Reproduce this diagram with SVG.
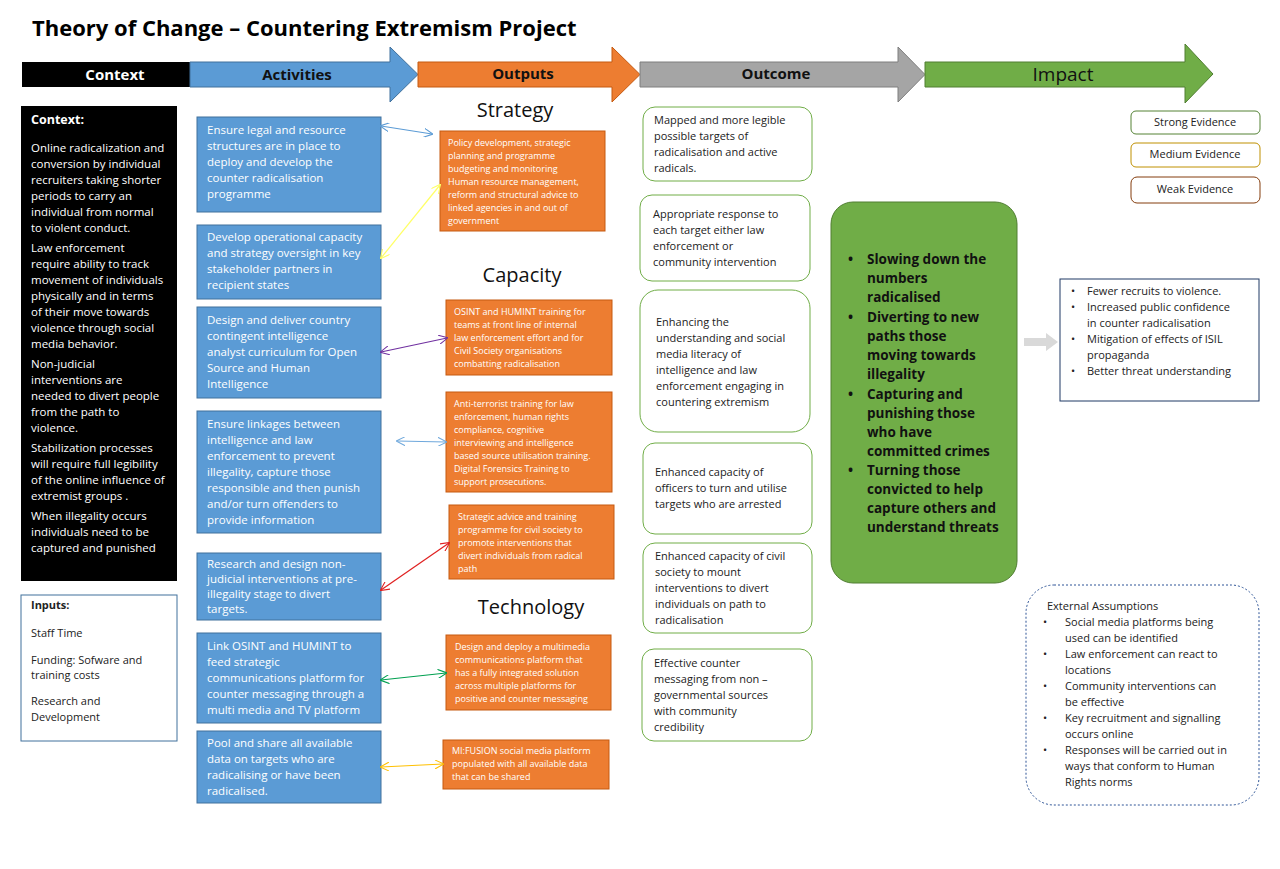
<svg xmlns="http://www.w3.org/2000/svg" width="1280" height="869" viewBox="0 0 1280 869">
<style>
text{font-family:"Open Sans","Liberation Sans",sans-serif}
.hd{font-size:15px;font-weight:bold;fill:#111}
.act rect{fill:#5b9bd5;stroke:#41719c;stroke-width:1}
.act text{font-size:11.5px;fill:#fff}
.out rect{fill:#ed7d31;stroke:#c55a11;stroke-width:1}
.out text{font-size:9px;fill:#fff}
.oc rect{fill:#fff;stroke:#70ad47;stroke-width:1}
.oc text{font-size:11px;fill:#222}
.sec{font-size:20px;fill:#111}
.ctx text{font-size:11.5px;fill:#fff}
.sm{font-size:11px;fill:#222}
</style>
<defs>
<marker id="a" viewBox="0 0 10 10" refX="9" refY="5" markerWidth="9" markerHeight="9" orient="auto-start-reverse" markerUnits="userSpaceOnUse"><path d="M0,0 L10,5 L0,10" fill="none" stroke="context-stroke" stroke-width="1.2"/></marker>
</defs>
<rect width="1280" height="869" fill="#fff"/>
<text x="32" y="36" style="font-size:22px;font-weight:bold;fill:#000">Theory of Change – Countering Extremism Project</text>
<g id="header">
<rect x="22" y="62" width="170" height="25" fill="#000"/>
<text x="115" y="80" text-anchor="middle" class="hd" style="fill:#fff">Context</text>
<path d="M190,62 H390 V47 L418,74.5 L390,102 V87 H190Z" fill="#5b9bd5" stroke="#41719c"/>
<text x="297" y="80" text-anchor="middle" class="hd">Activities</text>
<path d="M418,62 H612 V47 L640,74.5 L612,102 V87 H418Z" fill="#ed7d31" stroke="#c55a11"/>
<text x="523" y="79" text-anchor="middle" class="hd">Outputs</text>
<path d="M640,62 H898 V47 L925,74.5 L898,102 V87 H640Z" fill="#a5a5a5" stroke="#7f7f7f"/>
<text x="776" y="79" text-anchor="middle" class="hd">Outcome</text>
<path d="M925,62 H1185 V44 L1213,74 L1185,103 V87 H925Z" fill="#70ad47" stroke="#507e32"/>
<text x="1063" y="81" text-anchor="middle" style="font-size:19px;fill:#111">Impact</text>
</g>
<g id="context" class="ctx">
<rect x="21" y="106" width="156" height="475" fill="#000"/>
<text x="31" y="124" style="font-weight:bold;font-size:12.5px">Context:</text>
<text x="31" y="152">Online radicalization and</text>
<text x="31" y="168">conversion by individual</text>
<text x="31" y="184">recruiters taking shorter</text>
<text x="31" y="200">periods to carry an</text>
<text x="31" y="216">individual from normal</text>
<text x="31" y="232">to violent conduct.</text>
<text x="31" y="252">Law enforcement</text>
<text x="31" y="268">require ability to track</text>
<text x="31" y="284">movement  of individuals</text>
<text x="31" y="300">physically and in terms</text>
<text x="31" y="316">of their move towards</text>
<text x="31" y="332">violence through social</text>
<text x="31" y="348">media behavior.</text>
<text x="31" y="368">Non-judicial</text>
<text x="31" y="384">interventions are</text>
<text x="31" y="400">needed  to divert people</text>
<text x="31" y="416">from the path to</text>
<text x="31" y="432">violence.</text>
<text x="31" y="452">Stabilization processes</text>
<text x="31" y="468">will require full legibility</text>
<text x="31" y="484">of the online influence of</text>
<text x="31" y="500">extremist groups .</text>
<text x="31" y="520">When illegality occurs</text>
<text x="31" y="536">individuals need to be</text>
<text x="31" y="552">captured and punished</text>
</g>
<g id="inputs">
<rect x="21" y="595" width="156" height="146" fill="#fff" stroke="#41719c"/>
<text x="31" y="609" class="sm" style="font-weight:bold">Inputs:</text>
<text x="31" y="637" class="sm">Staff Time</text>
<text x="31" y="664" class="sm">Funding: Sofware and</text>
<text x="31" y="679" class="sm">training costs</text>
<text x="31" y="705" class="sm">Research and</text>
<text x="31" y="721" class="sm">Development</text>
</g>
<text x="515" y="117" text-anchor="middle" class="sec">Strategy</text>
<text x="522" y="282" text-anchor="middle" class="sec">Capacity</text>
<text x="531" y="614" text-anchor="middle" class="sec">Technology</text>
<g id="act1" class="act"><rect x="197" y="117" width="184" height="95"/>
<text x="207" y="134">Ensure legal and resource</text><text x="207" y="150">structures are in place to</text><text x="207" y="166">deploy and develop the</text><text x="207" y="182">counter radicalisation</text><text x="207" y="198">programme</text></g>
<g id="act2" class="act"><rect x="197" y="225" width="184" height="74"/>
<text x="207" y="241">Develop operational capacity</text><text x="207" y="257">and strategy oversight in key</text><text x="207" y="273">stakeholder partners in</text><text x="207" y="289">recipient states</text></g>
<g id="act3" class="act"><rect x="197" y="307" width="184" height="91"/>
<text x="207" y="324">Design and deliver country</text><text x="207" y="340">contingent intelligence</text><text x="207" y="356">analyst curriculum for Open</text><text x="207" y="372">Source and Human</text><text x="207" y="388">Intelligence</text></g>
<g id="act4" class="act"><rect x="197" y="411" width="184" height="122"/>
<text x="207" y="428">Ensure linkages between</text><text x="207" y="444">intelligence and law</text><text x="207" y="460">enforcement to prevent</text><text x="207" y="476">illegality, capture those</text><text x="207" y="492">responsible and then punish</text><text x="207" y="508">and/or turn offenders to</text><text x="207" y="524">provide information</text></g>
<g id="act5" class="act"><rect x="197" y="553" width="184" height="67"/>
<text x="207" y="568">Research and design non-</text><text x="207" y="583">judicial interventions at pre-</text><text x="207" y="598">illegality stage to divert</text><text x="207" y="613">targets.</text></g>
<g id="act6" class="act"><rect x="197" y="633" width="184" height="90"/>
<text x="207" y="650">Link OSINT and HUMINT  to</text><text x="207" y="666">feed strategic</text><text x="207" y="682">communications platform for</text><text x="207" y="698">counter messaging through a</text><text x="207" y="714">multi media and TV platform</text></g>
<g id="act7" class="act"><rect x="197" y="731" width="184" height="72"/>
<text x="207" y="747">Pool and share all available</text><text x="207" y="763">data on targets who are</text><text x="207" y="779">radicalising or have been</text><text x="207" y="795">radicalised.</text></g>
<g id="out1" class="out"><rect x="440" y="131" width="165" height="100"/>
<text x="448" y="146">Policy development, strategic</text><text x="448" y="159">planning and programme</text><text x="448" y="172">budgeting and monitoring</text><text x="448" y="185">Human resource management,</text><text x="448" y="198">reform and structural advice to</text><text x="448" y="211">linked agencies in and out of</text><text x="448" y="224">government</text></g>
<g id="out2" class="out"><rect x="446" y="300" width="166" height="75"/>
<text x="454" y="315">OSINT and HUMINT training for</text><text x="454" y="328">teams at front line of internal</text><text x="454" y="341">law enforcement effort and for</text><text x="454" y="354">Civil Society organisations</text><text x="454" y="367">combatting radicalisation</text></g>
<g id="out3" class="out"><rect x="446" y="392" width="166" height="100"/>
<text x="454" y="407">Anti-terrorist training for law</text><text x="454" y="420">enforcement, human rights</text><text x="454" y="433">compliance, cognitive</text><text x="454" y="446">interviewing and intelligence</text><text x="454" y="459">based source utilisation training.</text><text x="454" y="472">Digital Forensics Training to</text><text x="454" y="485">support prosecutions.</text></g>
<g id="out4" class="out"><rect x="449" y="505" width="165" height="74"/>
<text x="458" y="520">Strategic advice and training</text><text x="458" y="533">programme for civil society to</text><text x="458" y="546">promote interventions that</text><text x="458" y="559">divert individuals from radical</text><text x="458" y="572">path</text></g>
<g id="out5" class="out"><rect x="446" y="635" width="165" height="75"/>
<text x="455" y="650">Design and deploy a multimedia</text><text x="455" y="663">communications platform that</text><text x="455" y="676">has a fully integrated solution</text><text x="455" y="689">across multiple platforms for</text><text x="455" y="702">positive and counter messaging</text></g>
<g id="out6" class="out"><rect x="443" y="740" width="166" height="49"/>
<text x="452" y="754">MI:FUSION social media platform</text><text x="452" y="767">populated with all available data</text><text x="452" y="780">that can be shared</text></g>
<g id="oc1" class="oc"><rect x="643" y="107" width="169" height="74" rx="12"/>
<text x="654" y="124">Mapped and more legible</text><text x="654" y="140">possible targets of</text><text x="654" y="156">radicalisation and active</text><text x="654" y="172">radicals.</text></g>
<g id="oc2" class="oc"><rect x="640" y="195" width="170" height="86" rx="12"/>
<text x="653" y="218">Appropriate response to</text><text x="653" y="234">each target either law</text><text x="653" y="250">enforcement  or</text><text x="653" y="266">community intervention</text></g>
<g id="oc3" class="oc"><rect x="640" y="290" width="170" height="142" rx="18"/>
<text x="656" y="326">Enhancing the</text><text x="656" y="342">understanding and social</text><text x="656" y="358">media literacy of</text><text x="656" y="374">intelligence and law</text><text x="656" y="390">enforcement engaging in</text><text x="656" y="406">countering  extremism</text></g>
<g id="oc4" class="oc"><rect x="643" y="443" width="169" height="91" rx="12"/>
<text x="655" y="476">Enhanced capacity of</text><text x="655" y="492">officers to turn and utilise</text><text x="655" y="508">targets who are  arrested</text></g>
<g id="oc5" class="oc"><rect x="643" y="543" width="169" height="90" rx="12"/>
<text x="655" y="560">Enhanced capacity of civil</text><text x="655" y="576">society to mount</text><text x="655" y="592">interventions to divert</text><text x="655" y="608">individuals on path to</text><text x="655" y="624">radicalisation</text></g>
<g id="oc6" class="oc"><rect x="642" y="649" width="170" height="92" rx="12"/>
<text x="654" y="667">Effective counter</text><text x="654" y="683">messaging from non –</text><text x="654" y="699">governmental sources</text><text x="654" y="715">with community</text><text x="654" y="731">credibility</text></g>
<g id="goals">
<rect x="831" y="202" width="186" height="381" rx="22" fill="#70ad47" stroke="#507e32"/>
<g style="font-size:13.5px;font-weight:bold;fill:#111">
<text x="848" y="264">•</text><text x="867" y="264">Slowing down the</text><text x="867" y="283">numbers</text><text x="867" y="302">radicalised</text>
<text x="848" y="322">•</text><text x="867" y="322">Diverting to new</text><text x="867" y="341">paths those</text><text x="867" y="360">moving towards</text><text x="867" y="379">illegality</text>
<text x="848" y="399">•</text><text x="867" y="399">Capturing and</text><text x="867" y="418">punishing those</text><text x="867" y="437">who have</text><text x="867" y="456">committed crimes</text>
<text x="848" y="475">•</text><text x="867" y="475">Turning those</text><text x="867" y="494">convicted to help</text><text x="867" y="513">capture others and</text><text x="867" y="532">understand threats</text>
</g></g>
<g id="impact">
<path d="M1024,338 H1046 V333 L1058,342 L1046,351 V346 H1024Z" fill="#d9d9d9"/>
<rect x="1060" y="279" width="199" height="122" fill="#fff" stroke="#1f3864"/>
<g class="sm"><text x="1071" y="295">•</text><text x="1087" y="295">Fewer   recruits to violence.</text>
<text x="1071" y="311">•</text><text x="1087" y="311">Increased public confidence</text><text x="1087" y="327">in counter radicalisation</text>
<text x="1071" y="343">•</text><text x="1087" y="343">Mitigation of effects of ISIL</text><text x="1087" y="359">propaganda</text>
<text x="1071" y="375">•</text><text x="1087" y="375">Better threat understanding</text></g>
</g>
<g id="legend" class="sm">
<rect x="1131" y="111" width="129" height="23" rx="5" fill="#fff" stroke="#548235"/><text x="1195" y="126" text-anchor="middle">Strong  Evidence</text>
<rect x="1131" y="143" width="129" height="24" rx="5" fill="#fff" stroke="#bf9000"/><text x="1195" y="158" text-anchor="middle">Medium Evidence</text>
<rect x="1131" y="177" width="129" height="26" rx="6" fill="#fff" stroke="#843c0c"/><text x="1195" y="193" text-anchor="middle">Weak Evidence</text>
</g>
<g id="assumptions" class="sm">
<rect x="1026" y="585" width="233" height="220" rx="28" fill="#fff" stroke="#2f5597" stroke-dasharray="2,2"/>
<text x="1047" y="610">External Assumptions</text>
<text x="1043" y="626">•</text><text x="1065" y="626">Social media platforms being</text><text x="1065" y="642">used can be identified</text>
<text x="1043" y="658">•</text><text x="1065" y="658">Law enforcement  can react to</text><text x="1065" y="674">locations</text>
<text x="1043" y="690">•</text><text x="1065" y="690">Community interventions can</text><text x="1065" y="706">be effective</text>
<text x="1043" y="722">•</text><text x="1065" y="722">Key recruitment and signalling</text><text x="1065" y="738">occurs online</text>
<text x="1043" y="754">•</text><text x="1065" y="754">Responses will be carried out in</text><text x="1065" y="770">ways that conform to Human</text><text x="1065" y="786">Rights norms</text>
</g>
<g id="connectors" fill="none" stroke-width="1.2" marker-start="url(#a)" marker-end="url(#a)">
<line x1="381" y1="126" x2="432" y2="134" stroke="#5b9bd5"/>
<line x1="381" y1="258" x2="440" y2="185" stroke="#ffff66"/>
<line x1="381" y1="352" x2="447" y2="338" stroke="#7030a0"/>
<line x1="397" y1="441" x2="446" y2="442" stroke="#6fa8dc"/>
<line x1="381" y1="590" x2="449" y2="543" stroke="#e02020"/>
<line x1="381" y1="680" x2="446" y2="673" stroke="#00a050"/>
<line x1="381" y1="767" x2="443" y2="764" stroke="#ffc000"/>
</g>
</svg>
